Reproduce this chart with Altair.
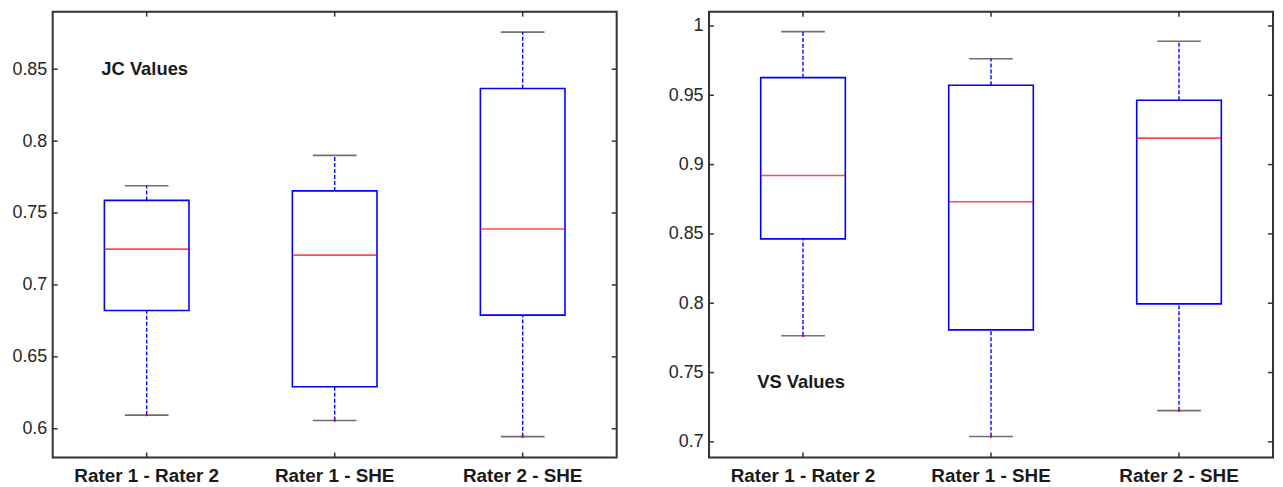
import altair as alt
import pandas as pd

groups = ["Rater 1 - Rater 2", "Rater 1 - SHE", "Rater 2 - SHE"]

jc_lower = [0.6095, 0.6057, 0.5945]
jc_q1 = [0.6822, 0.6292, 0.6790]
jc_median = [0.7249, 0.7207, 0.7389]
jc_q3 = [0.7588, 0.7654, 0.8366]
jc_upper = [0.7690, 0.7901, 0.8758]

vs_lower = [0.7765, 0.7038, 0.7225]
vs_q1 = [0.8464, 0.7808, 0.7995]
vs_median = [0.8921, 0.8732, 0.9191]
vs_q3 = [0.9627, 0.9572, 0.9464]
vs_upper = [0.9959, 0.9763, 0.9890]

jc_ticks = [0.6, 0.65, 0.7, 0.75, 0.8, 0.85]
vs_ticks = [0.7, 0.75, 0.8, 0.85, 0.9, 0.95, 1.0]
jc_domain = [0.58, 0.89]
vs_domain = [0.6887, 1.0103]

jc_label = "JC Values"
jc_label_y = 0.85
vs_label = "VS Values"
vs_label_y = 0.7435

W, H = 568, 449
BLUE = "#0000ff"
RED = "#ff0000"
DARK = "#333333"
FONT = "Liberation Sans"


def panel(lower, q1, med, q3, upper, ticks, domain, label, label_y):
    df = pd.DataFrame({"group": groups, "lower": lower, "q1": q1,
                       "median": med, "q3": q3, "upper": upper})
    xsc = alt.Scale(domain=groups, paddingInner=0.55, paddingOuter=0.275)
    xax = alt.Axis(title=None, labelAngle=0, ticks=False, domain=False,
                   labelFont=FONT, labelFontSize=19, labelFontWeight="bold",
                   labelColor="#1a1a1a", labelPadding=9,
                   minExtent=20, maxExtent=20)
    ysc = alt.Scale(domain=domain, nice=False, zero=False)
    yax = alt.Axis(values=ticks, format=".2~f", title=None, ticks=False,
                   domain=False, grid=False, labelPadding=6,
                   labelFont=FONT, labelFontSize=18, labelColor="#262626",
                   minExtent=44, maxExtent=44)

    def X():
        return alt.X("group:N", sort=groups, scale=xsc, axis=xax)

    def Y(f):
        return alt.Y(f"{f}:Q", scale=ysc, axis=yax)

    base = alt.Chart(df)
    wh_hi = base.mark_rule(color=BLUE, strokeDash=[4, 2], strokeWidth=1.4).encode(
        x=X(), y=Y("q3"), y2="upper:Q")
    wh_lo = base.mark_rule(color=BLUE, strokeDash=[4, 2], strokeWidth=1.4).encode(
        x=X(), y=Y("lower"), y2="q1:Q")
    box = base.mark_bar(fill="white", stroke=BLUE, strokeWidth=1.6).encode(
        x=X(), y=Y("q1"), y2="q3:Q")
    med_t = base.mark_tick(color=RED, size=85, thickness=1.6, orient="horizontal").encode(
        x=X(), y=Y("median"))
    cap_hi = base.mark_tick(color=DARK, size=44, thickness=1.6, orient="horizontal").encode(
        x=X(), y=Y("upper"))
    cap_lo = base.mark_tick(color=DARK, size=44, thickness=1.6, orient="horizontal").encode(
        x=X(), y=Y("lower"))
    dots = base.mark_point(shape="square", filled=True, size=5, color=RED, opacity=1).encode(
        x=X(), y=Y("lower"))

    tdf = pd.DataFrame({"v": ticks})
    yt_l = alt.Chart(tdf).mark_rule(color=DARK, strokeWidth=1.5).encode(
        y=Y("v"), x=alt.value(0), x2=alt.value(5))
    yt_r = alt.Chart(tdf).mark_rule(color=DARK, strokeWidth=1.5).encode(
        y=Y("v"), x=alt.value(W - 5), x2=alt.value(W))
    xt_t = base.mark_rule(color=DARK, strokeWidth=1.5).encode(
        x=X(), y=alt.value(0), y2=alt.value(5))
    xt_b = base.mark_rule(color=DARK, strokeWidth=1.5).encode(
        x=X(), y=alt.value(H - 5), y2=alt.value(H))

    ldf = pd.DataFrame({"group": [groups[0]], "y": [label_y], "t": [label]})
    txt = alt.Chart(ldf).mark_text(font=FONT, fontSize=18.5, fontWeight="bold",
                                   color="#1a1a1a", dx=-2).encode(
        x=X(), y=Y("y"), text="t:N")

    return alt.layer(yt_l, yt_r, xt_t, xt_b, wh_hi, wh_lo, box, med_t,
                     cap_hi, cap_lo, dots, txt).properties(width=W, height=H)


left = panel(jc_lower, jc_q1, jc_median, jc_q3, jc_upper,
             jc_ticks, jc_domain, jc_label, jc_label_y)
right = panel(vs_lower, vs_q1, vs_median, vs_q3, vs_upper,
              vs_ticks, vs_domain, vs_label, vs_label_y)

chart = alt.hconcat(left, right, spacing=46).properties(
    padding={"left": 0, "top": 0, "right": 0, "bottom": 0},
    background="white",
).configure_view(stroke=DARK, strokeWidth=2)

chart.save("out.html", embed_options={"renderer": "svg", "actions": False})
